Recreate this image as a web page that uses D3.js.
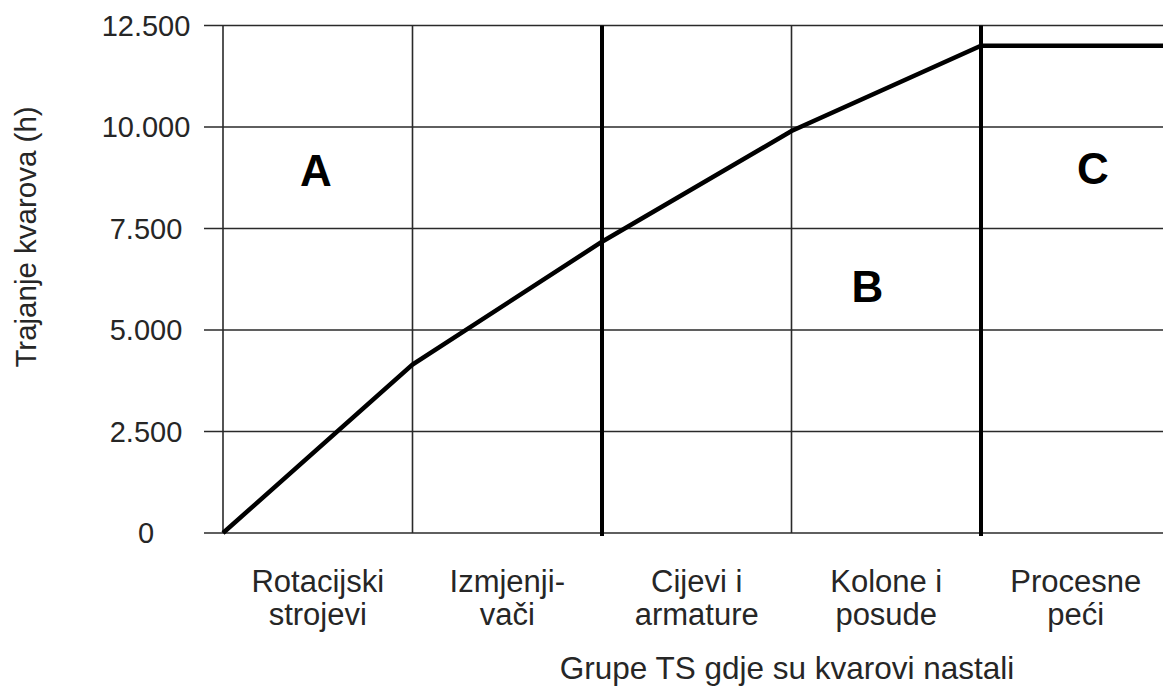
<!DOCTYPE html>
<html>
<head>
<meta charset="utf-8">
<script src="https://cdn.jsdelivr.net/npm/d3@7"></script>
<style>
  html, body { margin: 0; padding: 0; background: #fff; }
  svg { display: block; }
  text { font-family: "Liberation Sans", Arial, sans-serif; fill: #262626; }
</style>
</head>
<body>
<svg id="chart" width="1163" height="686"></svg>
<script>
// ---- data ----
const categories = [
  ["Rotacijski", "strojevi"],
  ["Izmjenji-", "vači"],
  ["Cijevi i", "armature"],
  ["Kolone i", "posude"],
  ["Procesne", "peći"]
];
// cumulative duration at each group boundary (0..5)
const boundaryIndex = [0, 1, 2, 3, 4, 5];
const boundaryValues = [0, 4150, 7175, 9900, 12000, 12000];
const yTicks = [0, 2500, 5000, 7500, 10000, 12500];
const yTickLabels = ["0", "2.500", "5.000", "7.500", "10.000", "12.500"];
const zoneDividers = [2, 4];
const zoneLabels = ["A", "B", "C"];
const zoneLabelX = [0.49, 3.4, 4.59];
const zoneLabelY = [8550, 5700, 8600];
const yTitle = "Trajanje kvarova (h)";
const xTitle = "Grupe TS gdje su kvarovi nastali";

// ---- layout ----
const svg = d3.select("#chart");
const plotLeft = 223, plotTop = 25.5, plotBottom = 533;
const catW = 189.5;
const x = d3.scaleLinear().domain([0, 5]).range([plotLeft, plotLeft + 5 * catW]);
const y = d3.scaleLinear().domain([0, 12500]).range([plotBottom, plotTop]);

const grid = svg.append("g");
// horizontal grid lines with left tick stubs
grid.selectAll("line.h").data(yTicks).join("line")
  .attr("x1", 204).attr("x2", x(5))
  .attr("y1", d => y(d)).attr("y2", d => y(d))
  .attr("stroke", "#2a2a2a").attr("stroke-width", 1.6);
// vertical boundaries
grid.selectAll("line.v").data(boundaryIndex).join("line")
  .attr("x1", d => x(d)).attr("x2", d => x(d))
  .attr("y1", y(12500)).attr("y2", d => zoneDividers.includes(d) ? y(0) + 3 : y(0))
  .attr("stroke", d => zoneDividers.includes(d) ? "#000" : "#2a2a2a")
  .attr("stroke-width", d => zoneDividers.includes(d) ? 4 : 1.6);

// y tick labels
svg.append("g").selectAll("text").data(yTicks).join("text")
  .attr("x", 146).attr("y", d => y(d))
  .attr("text-anchor", "middle").attr("dominant-baseline", "central")
  .attr("font-size", 29)
  .text((d, i) => yTickLabels[i]);

// line
const line = d3.line().x(d => x(d[0])).y(d => y(d[1]));
svg.append("path")
  .datum(boundaryIndex.map((b, i) => [b, boundaryValues[i]]))
  .attr("d", line)
  .attr("fill", "none").attr("stroke", "#000").attr("stroke-width", 4.5)
  .attr("stroke-linejoin", "miter");

// zone letters
svg.append("g").selectAll("text").data(zoneLabels).join("text")
  .attr("x", (d, i) => x(zoneLabelX[i])).attr("y", (d, i) => y(zoneLabelY[i]))
  .attr("text-anchor", "middle").attr("font-size", 44).attr("font-weight", "bold")
  .style("fill", "#000")
  .text(d => d);

// category labels
const cg = svg.append("g").selectAll("text").data(categories).join("text")
  .attr("text-anchor", "middle").attr("font-size", 31);
cg.selectAll("tspan").data((d, i) => d.map(t => ({t, i}))).join("tspan")
  .attr("x", d => x(d.i + 0.5))
  .attr("y", (d, j) => 592 + j * 33)
  .text(d => d.t);

// axis titles
svg.append("text")
  .attr("transform", `translate(36,${237}) rotate(-90)`)
  .attr("text-anchor", "middle").attr("font-size", 29.5)
  .text(yTitle);
svg.append("text")
  .attr("x", 787).attr("y", 679)
  .attr("text-anchor", "middle").attr("font-size", 31.5)
  .text(xTitle);
</script>
</body>
</html>
